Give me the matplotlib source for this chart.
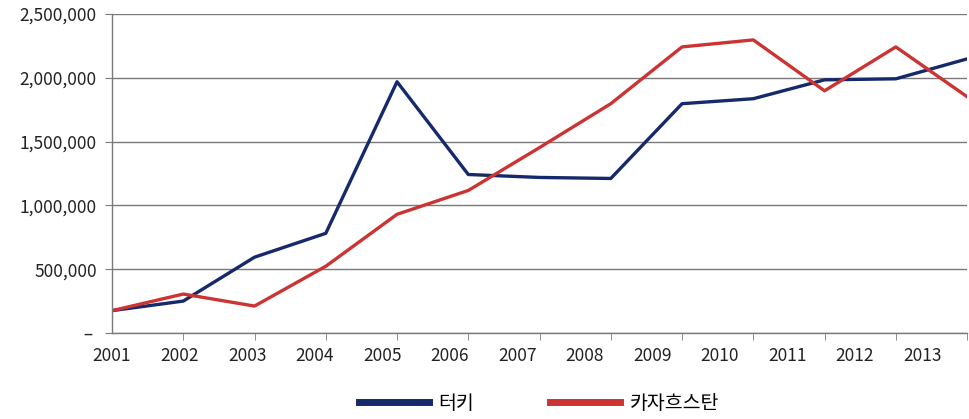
import numpy as np
import matplotlib
matplotlib.use("Agg")
import matplotlib.pyplot as plt
from matplotlib.ticker import FixedLocator, FuncFormatter

plt.rcParams['font.family'] = ['Noto Sans CJK KR', 'DejaVu Sans']

years = np.arange(2001, 2014)
turkey = [175000, 250000, 594000, 781000, 1969000, 1242000, 1219000,
          1211000, 1797000, 1836000, 1984000, 1992000, 2148000]
kazakhstan = [175000, 305000, 211000, 523000, 930000, 1117000, 1453000,
              1797000, 2242000, 2297000, 1898000, 2242000, 1852000]
labels = ['터키', '카자흐스탄']

fig = plt.figure(figsize=(9.69, 4.19), dpi=100)
ax = fig.add_axes([0.1156, 0.2053, 0.8824, 0.7613])

ax.plot(years, turkey, color='#15296b', lw=2.4, label=labels[0])
ax.plot(years, kazakhstan, color='#cc3333', lw=2.4, label=labels[1])

ax.set_xlim(2001, 2013)
ax.set_ylim(0, 2500000)
ax.set_yticks(np.arange(0, 2500001, 500000))
ax.yaxis.set_major_formatter(FuncFormatter(lambda v, p: ' – ' if v == 0 else f'{int(v):,}'))
ax.grid(axis='y', color='#7a7a7a', lw=1)
ax.set_axisbelow(True)

# tick marks on the years, labels drift slightly left as in the source
ax.xaxis.set_minor_locator(FixedLocator(years))
label_pos = years[0] + (years - years[0]) * 0.948
ax.xaxis.set_major_locator(FixedLocator(label_pos))
ax.set_xticklabels([str(y) for y in years])
ax.tick_params(axis='x', which='major', length=0, pad=10, labelsize=12.5)
ax.tick_params(axis='x', which='minor', length=5, color='#7a7a7a')
ax.tick_params(axis='y', length=5, color='#7a7a7a', labelsize=12.5, pad=6)
for lab in ax.get_xticklabels() + ax.get_yticklabels():
    lab.set_color('#222222')

for s in ['top', 'right']:
    ax.spines[s].set_visible(False)
for s in ['left', 'bottom']:
    ax.spines[s].set_color('#7a7a7a')
    ax.spines[s].set_linewidth(1)

leg = fig.legend(loc='center', bbox_to_anchor=(0.556, 0.038), ncol=2, frameon=False,
                 fontsize=14, handlelength=3.6, columnspacing=3.9, handletextpad=0.5)
for line in leg.get_lines():
    line.set_linewidth(5)

fig.savefig('out.png', dpi=100)
